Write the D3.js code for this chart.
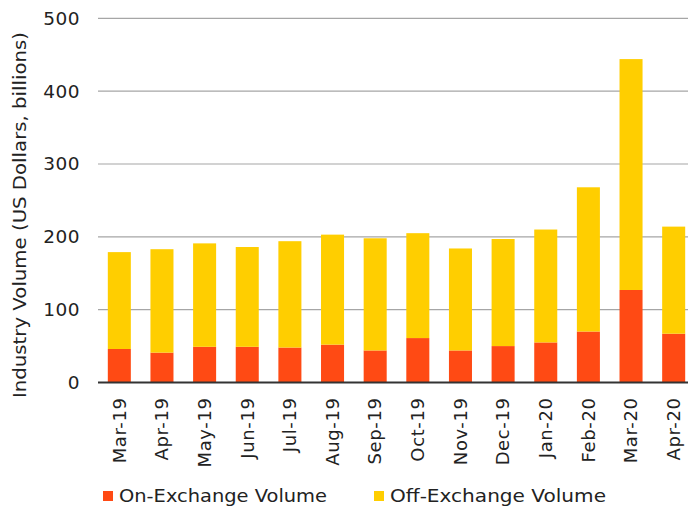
<!DOCTYPE html>
<html><head><meta charset="utf-8">
<script src="https://cdn.jsdelivr.net/npm/d3@7"></script>
<style>body{margin:0;background:#fff;} svg{display:block;font-family:"DejaVu Sans", sans-serif;}</style>
</head><body><svg id="c" width="688" height="508"></svg>
<script>
const categories = ["Mar-19","Apr-19","May-19","Jun-19","Jul-19","Aug-19","Sep-19","Oct-19","Nov-19","Dec-19","Jan-20","Feb-20","Mar-20","Apr-20"];
const onExchange = [46, 41, 49, 49, 48, 52, 44, 61, 44, 50, 55, 70, 127, 67];
const totalVolume = [179, 183, 191, 186, 194, 203, 198, 205, 184, 197, 210, 268, 444, 214];
const offExchange = totalVolume.map((t,i)=>t-onExchange[i]);
const yTicks = [0,100,200,300,400,500];
const seriesNames = ["On-Exchange Volume","Off-Exchange Volume"];
const colors = ["#FF4A14","#FFCE00"];
const FONT = "'DejaVu Sans', sans-serif";

const svg = d3.select("#c");
const x = d3.scaleBand().domain(categories).range([98, 695]).paddingInner(0.46).paddingOuter(0.23);
const y = d3.scaleLinear().domain([0,500]).range([382.5,18.3]);

svg.append("g").selectAll("line").data(yTicks.filter(d=>d>0)).join("line")
  .attr("x1",98).attr("x2",688).attr("y1",d=>y(d)).attr("y2",d=>y(d))
  .attr("stroke","#a6a6a6").attr("stroke-width",1.2);

const stacked = d3.stack().keys(["on","off"])(categories.map((c,i)=>({cat:c,on:onExchange[i],off:offExchange[i]})));
svg.append("g").selectAll("g").data(stacked).join("g").attr("fill",(d,i)=>colors[i])
  .selectAll("rect").data(d=>d).join("rect")
  .attr("x",d=>x(d.data.cat)).attr("width",x.bandwidth())
  .attr("y",d=>y(d[1])).attr("height",d=>y(d[0])-y(d[1]));

svg.append("line").attr("x1",98).attr("x2",688).attr("y1",y(0)).attr("y2",y(0))
  .attr("stroke","#333").attr("stroke-width",2);

const ya = svg.append("g").attr("transform","translate(80,0)")
  .call(d3.axisLeft(y).tickValues(yTicks).tickSize(0).tickPadding(0));
ya.select(".domain").remove();
ya.selectAll("text").attr("font-size",18.5).attr("letter-spacing",0.5).attr("fill","#222").attr("font-family",FONT);

const xa = svg.append("g").attr("transform",`translate(0,${y(0)})`)
  .call(d3.axisBottom(x).tickSize(0).tickPadding(0));
xa.select(".domain").remove();
xa.selectAll("text").attr("font-size",18).attr("letter-spacing",0.6).attr("fill","#222").attr("font-family",FONT)
  .attr("text-anchor","end").attr("transform","rotate(-90)")
  .attr("x",-15).attr("y",0).attr("dy","0.35em");

svg.append("text").attr("transform","translate(26,215) rotate(-90)")
  .attr("text-anchor","middle").attr("font-size",17.5).attr("fill","#222")
  .attr("textLength",366).attr("lengthAdjust","spacingAndGlyphs")
  .text("Industry Volume (US Dollars, billions)");

const legX = [103, 374];
const legW = [208, 216];
const lg = svg.append("g").selectAll("g").data(seriesNames).join("g")
  .attr("transform",(d,i)=>`translate(${legX[i]},491)`);
lg.append("rect").attr("width",10).attr("height",10).attr("fill",(d,i)=>colors[i]);
lg.append("text").attr("x",16).attr("y",5).attr("dy","0.35em").attr("font-size",18).attr("fill","#222")
  .attr("textLength",(d,i)=>legW[i]).attr("lengthAdjust","spacingAndGlyphs").text(d=>d);
</script></body></html>
